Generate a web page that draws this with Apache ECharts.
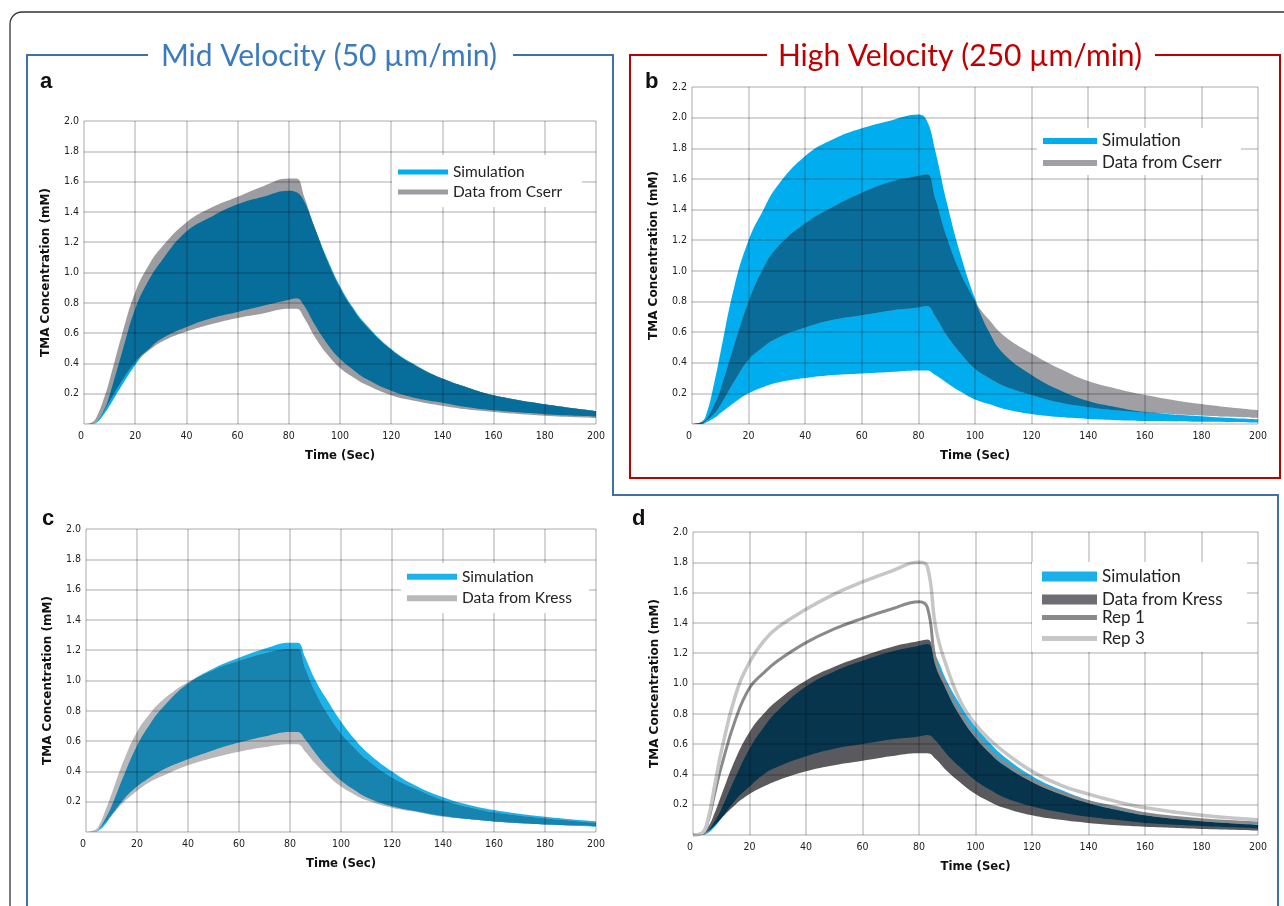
<!DOCTYPE html>
<html>
<head>
<meta charset="utf-8">
<script src="https://cdn.jsdelivr.net/npm/echarts@6/dist/echarts.min.js"></script>
<style>
  html, body { margin: 0; padding: 0; background: #fff; }
  #chart { width: 1284px; height: 906px; }
</style>
</head>
<body>
<div id="chart"></div>
<script>
// sample times (sec), shared by every curve
const time = [0, 3, 5, 8, 10, 15, 20, 25, 30, 40, 50, 60, 70, 80, 83, 86, 90, 95, 100, 105, 110, 120, 130, 140, 150, 160, 180, 200];

// a) mid velocity, simulation vs Cserr (TMA mM)
const simUpA  = [0, 0, 0.02, 0.10, 0.19, 0.48, 0.76, 0.94, 1.07, 1.27, 1.37, 1.45, 1.50, 1.54, 1.53, 1.47, 1.30, 1.09, 0.91, 0.77, 0.66, 0.495, 0.385, 0.30, 0.24, 0.19, 0.13, 0.085];
const simLoA  = [0, 0, 0.01, 0.07, 0.12, 0.26, 0.39, 0.49, 0.56, 0.64, 0.70, 0.74, 0.78, 0.82, 0.83, 0.78, 0.66, 0.53, 0.43, 0.36, 0.30, 0.22, 0.17, 0.14, 0.11, 0.09, 0.065, 0.05];
const dataUpA = [0, 0.01, 0.05, 0.18, 0.29, 0.60, 0.87, 1.04, 1.16, 1.33, 1.43, 1.50, 1.57, 1.62, 1.62, 1.50, 1.30, 1.08, 0.90, 0.76, 0.65, 0.49, 0.38, 0.30, 0.24, 0.19, 0.13, 0.085];
const dataLoA = [0, 0, 0.02, 0.09, 0.15, 0.29, 0.41, 0.48, 0.54, 0.61, 0.66, 0.70, 0.73, 0.76, 0.76, 0.70, 0.58, 0.46, 0.37, 0.31, 0.26, 0.19, 0.15, 0.12, 0.095, 0.08, 0.055, 0.04];

// b) high velocity, simulation vs Cserr
const simUpB  = [0, 0.01, 0.06, 0.28, 0.46, 0.90, 1.20, 1.39, 1.55, 1.75, 1.86, 1.93, 1.98, 2.02, 1.98, 1.78, 1.45, 1.10, 0.82, 0.60, 0.46, 0.32, 0.22, 0.15, 0.11, 0.08, 0.05, 0.03];
const simLoB  = [0, 0, 0.01, 0.04, 0.07, 0.14, 0.20, 0.24, 0.27, 0.30, 0.32, 0.33, 0.34, 0.35, 0.35, 0.32, 0.27, 0.21, 0.16, 0.13, 0.10, 0.065, 0.045, 0.033, 0.025, 0.02, 0.015, 0.01];
const dataUpB = [0, 0.01, 0.03, 0.13, 0.22, 0.52, 0.80, 1.01, 1.15, 1.31, 1.42, 1.51, 1.58, 1.62, 1.63, 1.47, 1.22, 0.98, 0.80, 0.68, 0.58, 0.46, 0.36, 0.28, 0.23, 0.19, 0.13, 0.09];
const dataLoB = [0, 0, 0.02, 0.07, 0.12, 0.28, 0.42, 0.50, 0.56, 0.63, 0.68, 0.71, 0.74, 0.76, 0.77, 0.70, 0.58, 0.46, 0.36, 0.30, 0.25, 0.19, 0.14, 0.11, 0.09, 0.075, 0.055, 0.04];

// c) mid velocity, simulation vs Kress
const simUpC  = [0, 0, 0.02, 0.10, 0.17, 0.38, 0.57, 0.71, 0.82, 0.98, 1.08, 1.15, 1.21, 1.25, 1.25, 1.15, 1.00, 0.86, 0.73, 0.62, 0.53, 0.40, 0.30, 0.23, 0.18, 0.145, 0.10, 0.07];
const simLoC  = [0, 0, 0.01, 0.06, 0.11, 0.22, 0.30, 0.36, 0.41, 0.48, 0.54, 0.59, 0.63, 0.66, 0.66, 0.61, 0.52, 0.42, 0.34, 0.28, 0.23, 0.17, 0.135, 0.105, 0.085, 0.07, 0.05, 0.035];
const dataUpC = [0, 0.01, 0.04, 0.16, 0.25, 0.48, 0.66, 0.78, 0.87, 0.99, 1.07, 1.13, 1.18, 1.21, 1.21, 1.08, 0.92, 0.77, 0.65, 0.56, 0.48, 0.36, 0.28, 0.21, 0.165, 0.13, 0.09, 0.06];
const dataLoC = [0, 0, 0.02, 0.07, 0.11, 0.20, 0.27, 0.33, 0.37, 0.44, 0.49, 0.53, 0.56, 0.58, 0.58, 0.53, 0.45, 0.37, 0.30, 0.25, 0.21, 0.16, 0.13, 0.10, 0.085, 0.07, 0.05, 0.04];

// d) Kress with replicate runs
const simUpD  = [0, 0, 0.02, 0.10, 0.17, 0.38, 0.57, 0.71, 0.82, 0.98, 1.08, 1.15, 1.21, 1.25, 1.26, 1.18, 1.01, 0.85, 0.72, 0.61, 0.52, 0.39, 0.30, 0.23, 0.18, 0.14, 0.10, 0.07];
const simLoD  = [0, 0, 0.01, 0.06, 0.11, 0.23, 0.32, 0.40, 0.45, 0.52, 0.57, 0.60, 0.63, 0.65, 0.66, 0.62, 0.53, 0.44, 0.36, 0.30, 0.25, 0.19, 0.15, 0.12, 0.10, 0.08, 0.06, 0.045];
const dataUpD = [0, 0.01, 0.04, 0.16, 0.26, 0.50, 0.68, 0.80, 0.89, 1.02, 1.11, 1.18, 1.24, 1.28, 1.29, 1.13, 0.94, 0.77, 0.64, 0.54, 0.46, 0.35, 0.27, 0.21, 0.165, 0.13, 0.09, 0.065];
const dataLoD = [0, 0, 0.02, 0.07, 0.11, 0.20, 0.27, 0.32, 0.36, 0.42, 0.46, 0.49, 0.52, 0.54, 0.54, 0.50, 0.42, 0.34, 0.27, 0.22, 0.18, 0.13, 0.10, 0.08, 0.065, 0.055, 0.04, 0.03];
const rep1D   = [0, 0.01, 0.07, 0.30, 0.45, 0.76, 0.97, 1.07, 1.15, 1.27, 1.36, 1.43, 1.49, 1.54, 1.50, 1.14, 0.97, 0.79, 0.66, 0.56, 0.48, 0.36, 0.28, 0.22, 0.18, 0.14, 0.10, 0.08];
const rep3D   = [0, 0.01, 0.08, 0.36, 0.55, 0.92, 1.14, 1.28, 1.37, 1.49, 1.59, 1.67, 1.74, 1.80, 1.77, 1.36, 1.10, 0.87, 0.73, 0.63, 0.55, 0.42, 0.33, 0.27, 0.22, 0.18, 0.13, 0.10];

const xTicks = { min: 0, max: 200, interval: 20 };

const NARROW = "'Liberation Sans Narrow', 'DejaVu Sans Condensed', sans-serif";
const GRIDLINE = 'rgba(0,0,0,0.22)';
const SMOOTH = 0.45;

const chart = echarts.init(document.getElementById('chart'));

// filled band between two curves, done as a stacked pair.
// rows are [value, time] so the stacked dimension is the value one
function band(name, lo, hi, color, g, z) {
  const stack = name + '_' + g;
  const common = {
    type: 'line', xAxisIndex: g, yAxisIndex: g, stack, stackStrategy: 'all',
    encode: { x: 1, y: 0 },
    symbol: 'none', smooth: SMOOTH, silent: true, z, animation: false,
    emphasis: { disabled: true }
  };
  return [
    Object.assign({}, common, {
      name: name + ' base',
      data: time.map((t, i) => [lo[i], t]),
      lineStyle: { width: 0, opacity: 0 }
    }),
    Object.assign({}, common, {
      name,
      data: time.map((t, i) => [Math.max(0, hi[i] - lo[i]), t]),
      lineStyle: { width: 0, opacity: 0 },
      itemStyle: { color },
      areaStyle: { color, opacity: 1 }
    })
  ];
}

// sim band, data band and the part where both overlap
function panel(g, simLo, simUp, datLo, datUp, dataName, c) {
  const ovLo = simLo.map((v, i) => Math.max(v, datLo[i]));
  const ovUp = simUp.map((v, i) => Math.min(v, datUp[i]));
  return [].concat(
    band('Simulation', simLo, simUp, c.sim, g, 2),
    band(dataName, datLo, datUp, c.data, g, 2),
    band('overlap ' + g, ovLo, ovUp, c.ov, g, 3)
  );
}

const grids = [
  { left: 84, top: 121, width: 512, height: 303 },
  { left: 692, top: 87, width: 566, height: 337 },
  { left: 86, top: 529, width: 510, height: 303 },
  { left: 693, top: 532, width: 565, height: 303 }
];

function xAxis(g) {
  return {
    type: 'value', gridIndex: g, min: xTicks.min, max: xTicks.max, interval: xTicks.interval, z: 5,
    name: 'Time (Sec)', nameLocation: 'middle', nameGap: 25,
    nameTextStyle: { fontFamily: NARROW, fontWeight: 'bold', fontSize: 13, color: '#111' },
    axisLine: { show: false }, axisTick: { show: false },
    axisLabel: { fontFamily: NARROW, fontSize: 10.5, color: '#222', margin: 7, alignMinLabel: 'right' },
    splitLine: { show: true, lineStyle: { color: GRIDLINE, width: 1.5 } }
  };
}
function yAxis(g, max) {
  return {
    type: 'value', gridIndex: g, min: 0, max, interval: 0.2, z: 5,
    name: 'TMA Concentration (mM)', nameLocation: 'middle', nameGap: 32, nameRotate: 90,
    nameTextStyle: { fontFamily: 'DejaVu Sans', fontWeight: 'bold', fontSize: 12, color: '#111' },
    axisLine: { show: false }, axisTick: { show: false },
    axisLabel: { showMinLabel: false, fontFamily: NARROW, fontSize: 10.5, color: '#222', margin: 5,
      formatter: v => v.toFixed(1) },
    splitLine: { show: true, lineStyle: { color: GRIDLINE, width: 1.5 } }
  };
}

const colA = { sim: '#00aeef', data: '#9d9da1', ov: '#076e9b' };
const colB = { sim: '#00aeef', data: '#a0a0a4', ov: '#0a6d99' };
const colC = { sim: '#1ab3ec', data: '#b9b9bc', ov: '#1783af' };
const colD = { sim: '#1ab0ea', data: '#5a5a5e', ov: '#06354d' };

const series = [].concat(
  panel(0, simLoA, simUpA, dataLoA, dataUpA, 'Data from Cserr', colA),
  panel(1, simLoB, simUpB, dataLoB, dataUpB, 'Data from Cserr', colB),
  panel(2, simLoC, simUpC, dataLoC, dataUpC, 'Data from Kress', colC),
  panel(3, simLoD, simUpD, dataLoD, dataUpD, 'Data from Kress', colD),
  [
    { type: 'line', name: 'Rep 1', xAxisIndex: 3, yAxisIndex: 3, data: time.map((t, i) => [t, rep1D[i]]),
      symbol: 'none', smooth: SMOOTH, z: 4, silent: true, animation: false,
      lineStyle: { color: '#8a8a8a', width: 3 }, itemStyle: { color: '#8a8a8a' } },
    { type: 'line', name: 'Rep 3', xAxisIndex: 3, yAxisIndex: 3, data: time.map((t, i) => [t, rep3D[i]]),
      symbol: 'none', smooth: SMOOTH, z: 4, silent: true, animation: false,
      lineStyle: { color: '#c6c6c6', width: 3.5 }, itemStyle: { color: '#c6c6c6' } }
  ]
);

function legend(items, left, top, w, h, fs, lh) {
  return {
    data: items.map(([name, color]) => ({ name, itemStyle: { color, borderWidth: 0 } })),
    left, top, orient: 'vertical', itemWidth: w, itemHeight: h, itemGap: 0, padding: 0,
    icon: 'rect', selectedMode: false, z: 8,
    textStyle: { fontFamily: 'Lato', fontSize: fs, color: '#222', lineHeight: lh }
  };
}

const legends = [
  legend([['Simulation', colA.sim], ['Data from Cserr', colA.data]], 398, 162, 50, 5, 15.5, 20),
  legend([['Simulation', colB.sim], ['Data from Cserr', colB.data]], 1043, 130, 54, 6, 17, 22),
  legend([['Simulation', colC.sim], ['Data from Kress', colC.data]], 407, 566, 50, 6, 15.5, 21.5),
  legend([['Simulation', colD.sim], ['Data from Kress', '#6e6e72']], 1042, 565, 55, 10, 17, 23),
  legend([['Rep 1', '#8a8a8a'], ['Rep 3', '#c6c6c6']], 1042, 607, 55, 5, 17, 21)
];

const whiteBox = (x, y, w, h) => ({ type: 'rect', z: 7, shape: { x, y, width: w, height: h }, style: { fill: '#fff' } });
const label = (t, x, y) => ({ type: 'text', x, y, z: 10,
  style: { text: t, fill: '#111', font: 'bold 22px "Liberation Sans", Arial, sans-serif', verticalAlign: 'middle' } });

const graphic = [
  { type: 'rect', z: 1, shape: { x: 10, y: 12, width: 1300, height: 930, r: 12 },
    style: { fill: 'none', stroke: '#333', lineWidth: 1.3 } },
  // blue frame (mid velocity)
  { type: 'polyline', z: 1, shape: { points: [[148, 55], [27, 55], [27, 915]] },
    style: { stroke: '#3f6fa6', lineWidth: 2, fill: null } },
  { type: 'polyline', z: 1, shape: { points: [[513, 55], [613, 55], [613, 495], [1278, 495], [1278, 915]] },
    style: { stroke: '#3f6fa6', lineWidth: 2, fill: null } },
  // red frame (high velocity)
  { type: 'polyline', z: 1, shape: { points: [[767, 55], [630, 55], [630, 478], [1280, 478], [1280, 55], [1155, 55]] },
    style: { stroke: '#c00000', lineWidth: 2, fill: null } },
  { type: 'text', x: 329, y: 56, z: 10,
    style: { text: 'Mid Velocity (50 \u00b5m/min)', fill: '#3a7bbf', font: '30px Lato, sans-serif', align: 'center', verticalAlign: 'middle' } },
  { type: 'text', x: 960, y: 56, z: 10,
    style: { text: 'High Velocity (250 \u00b5m/min)', fill: '#c00000', font: '30px Lato, sans-serif', align: 'center', verticalAlign: 'middle' } },
  label('a', 40, 82), label('b', 645, 82), label('c', 42, 519), label('d', 632, 519),
  whiteBox(392, 155, 190, 52),
  whiteBox(1037, 128, 204, 47),
  whiteBox(401, 563, 188, 50),
  whiteBox(1032, 562, 215, 90)
];

chart.setOption({
  animation: false,
  backgroundColor: '#fff',
  grid: grids.map(g => Object.assign({ outerBoundsMode: 'none' }, g)),
  xAxis: [0, 1, 2, 3].map(xAxis),
  yAxis: [yAxis(0, 2.0), yAxis(1, 2.2), yAxis(2, 2.0), yAxis(3, 2.0)],
  legend: legends,
  graphic,
  series
});
</script>
</body>
</html>
